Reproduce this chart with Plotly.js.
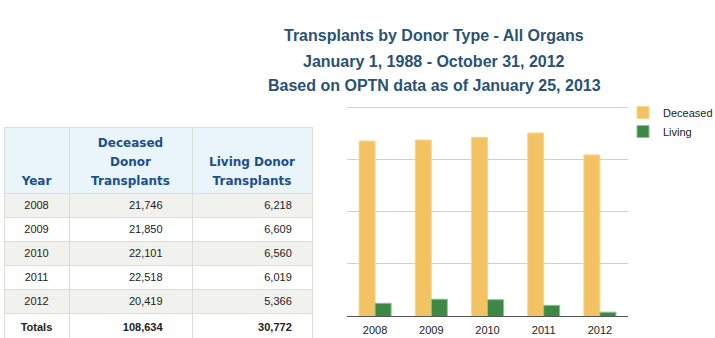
<!DOCTYPE html>
<html>
<head>
<meta charset="utf-8">
<script src="https://cdn.plot.ly/plotly-3.0.1.min.js"></script>
<style>
  html, body { margin: 0; padding: 0; background: #ffffff; }
  #chart { width: 715px; height: 338px; }
</style>
</head>
<body>
<div id="chart"></div>
<script>
// ---- Data ----
const years = ["2008", "2009", "2010", "2011", "2012"];
const deceased = [21746, 21850, 22101, 22518, 20419];
const living = [6218, 6609, 6560, 6019, 5366];
const titleLines = [
  "Transplants by Donor Type - All Organs",
  "January 1, 1988 - October 31, 2012",
  "Based on OPTN data as of January 25, 2013"
];
// header text, one list per column, one entry per text line
const headerYear = ["", "", "Year"];
const headerDeceased = ["Deceased", "Donor", "Transplants"];
const headerLiving = ["", "Living Donor", "Transplants"];
const totalsLabel = "Totals";
const seriesNames = ["Deceased", "Living"];

// ---- Derived table columns ----
const W = 715, H = 338;
const padDec = "\u00a0\u00a0\u00a0\u00a0\u00a0\u00a0\u00a0";
const padLiv = "\u00a0\u00a0\u00a0\u00a0";
const fmt = v => v.toLocaleString("en-US");
const sum = a => a.reduce((s, v) => s + v, 0);
const colYear = years.concat(["<b>" + totalsLabel + "</b>"]);
const colDec = deceased.map(v => fmt(v) + padDec).concat(["<b>" + fmt(sum(deceased)) + "</b>" + padDec]);
const colLiv = living.map(v => fmt(v) + padLiv).concat(["<b>" + fmt(sum(living)) + "</b>" + padLiv]);
const rowFill = colYear.map((_, i) => (i % 2 === 0 && i < years.length) ? "#F1F1EE" : "#FFFFFF");

const tableDomain = { x: [4 / W, 312 / W], y: [0, 1 - 127 / H] };
const headerDomain = { x: [4 / W, 312 / W], y: [0, 1 - 130 / H] };
const colW = [65, 123, 120];

// body table with an empty (filled) header box
const table = {
  type: "table",
  domain: tableDomain,
  columnwidth: colW,
  header: {
    values: ["", "", ""],
    height: 66,
    fill: { color: "#EAF5FB" },
    line: { color: "#DCDCDC", width: 1 },
    font: { family: "DejaVu Sans", size: 12, color: "#1B4F8F" }
  },
  cells: {
    values: [colYear, colDec, colLiv],
    align: ["center", "right", "right"],
    height: 24,
    fill: { color: [rowFill, rowFill, rowFill] },
    line: { color: "#DCDCDC", width: 1 },
    font: { family: "Liberation Sans, Arial", size: 11, color: "#222222" }
  }
};

// header labels, one header row per text line so each line is centred
const headerText = {
  type: "table",
  domain: headerDomain,
  columnwidth: colW,
  header: {
    values: [headerYear, headerDeceased, headerLiving],
    align: "center",
    height: 19,
    fill: { color: "rgba(0,0,0,0)" },
    line: { color: "rgba(0,0,0,0)", width: 0 },
    font: { family: "DejaVu Sans", size: 12, color: "#1B4F8F", weight: "bold" }
  },
  cells: {
    values: [[], [], []],
    fill: { color: "rgba(0,0,0,0)" },
    line: { color: "rgba(0,0,0,0)", width: 0 }
  }
};

const barDec = {
  type: "bar", name: seriesNames[0], x: years, y: deceased,
  marker: { color: "#F2C263", line: { color: "#F8D690", width: 1 } },
  hoverinfo: "x+y"
};
const barLiv = {
  type: "bar", name: seriesNames[1], x: years, y: living,
  marker: { color: "#3D8845", line: { color: "#8DC292", width: 1 } },
  hoverinfo: "x+y"
};

const titleY = [36, 61, 85];
const annotations = titleLines.map((t, i) => ({
  text: t, xref: "paper", yref: "paper",
  x: 434 / W, y: 1 - titleY[i] / H,
  xanchor: "center", yanchor: "middle", showarrow: false,
  font: { family: "Liberation Sans, Arial", size: 16, color: "#2B5276", weight: "bold" }
}));

const layout = {
  width: W, height: H,
  margin: { l: 0, r: 0, t: 0, b: 0, autoexpand: false },
  paper_bgcolor: "#FFFFFF", plot_bgcolor: "#FFFFFF",
  showlegend: true,
  barmode: "group",
  bargap: 0.43, bargroupgap: 0,
  annotations: annotations,
  xaxis: {
    domain: [347 / W, 628 / W], type: "category",
    showline: true, linecolor: "#555555", linewidth: 1,
    ticks: "", showgrid: false, zeroline: false,
    ticklabelstandoff: 4, automargin: false,
    tickfont: { family: "Liberation Sans, Arial", size: 11, color: "#222222" },
    fixedrange: true
  },
  yaxis: {
    domain: [1 - 316 / H, 1 - 106 / H],
    range: [5000, 25100], tick0: 0, dtick: 5000,
    showgrid: true, gridcolor: "#D0D0D0", gridwidth: 1,
    showticklabels: false, zeroline: false, showline: false, ticks: "",
    automargin: false, fixedrange: true
  },
  legend: {
    x: 623 / W, y: 1 - 98 / H, xanchor: "left", yanchor: "top",
    bgcolor: "rgba(0,0,0,0)", itemwidth: 30,
    font: { family: "Liberation Sans, Arial", size: 11, color: "#222222" },
    tracegroupgap: 0
  }
};

Plotly.newPlot("chart", [table, headerText, barDec, barLiv], layout, { displayModeBar: false, staticPlot: true });
</script>
</body>
</html>
